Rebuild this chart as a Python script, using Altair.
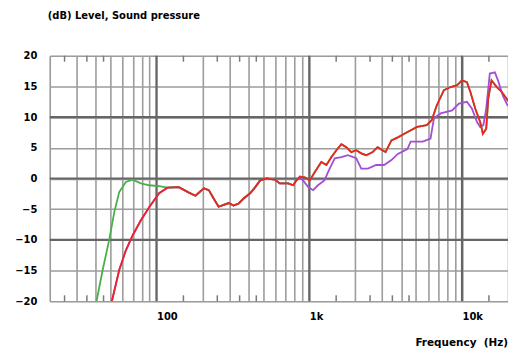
import altair as alt
import pandas as pd

# ---- data ----
red_f = [51, 57, 63, 70, 79, 90, 104, 118, 140, 163, 180, 204, 220, 237, 255, 275, 297, 319,
         344, 370, 410, 443, 477, 527, 598, 641, 728, 785, 824, 870, 935, 1008, 1090, 1200,
         1295, 1397, 1505, 1622, 1748, 1884, 2030, 2190, 2360, 2600, 2800, 3010, 3160, 3450,
         3800, 4280, 5080, 5870, 6330, 6830, 7610, 8430, 9300, 10000, 10770, 11350, 12200,
         13150, 13700, 14400, 14850, 15600, 16900, 18200, 19600, 20000]
red_db = [-20, -14.9, -11.7, -9.2, -6.8, -4.6, -2.4, -1.5, -1.4, -2.3, -2.8, -1.6, -1.9, -3.3,
          -4.6, -4.3, -4.0, -4.4, -4.1, -3.3, -2.4, -1.4, -0.3, 0.0, -0.2, -0.8, -0.8, -1.1,
          -0.3, 0.3, 0.2, -0.3, 1.1, 2.7, 2.2, 3.5, 4.6, 5.6, 5.1, 4.3, 4.6, 4.1, 3.8, 4.3,
          5.1, 4.6, 4.3, 6.2, 6.7, 7.4, 8.4, 8.7, 9.5, 11.9, 14.4, 14.9, 15.2, 16.0, 15.7,
          14.1, 11.4, 9.2, 7.3, 8.1, 13.0, 16.0, 14.9, 14.1, 13.0, 12.6]

green_low_f = [40.5, 44.4, 49, 53, 57, 63, 69.7, 79, 89.6, 104]
green_low_db = [-20, -14.9, -10, -5.4, -2.2, -0.55, -0.2, -0.8, -1.1, -1.25]

purple_high_f = [985, 1060, 1140, 1255, 1360, 1470, 1622, 1790, 2030, 2190, 2420, 2740, 3090,
                 3450, 3800, 4390, 4610, 5530, 6220, 6550, 7250, 8620, 9540, 10770, 11600,
                 12540, 13150, 13800, 14400, 15200, 16400, 17200, 18500, 19600, 20000]
purple_high_db = [-1.4, -1.9, -1.1, -0.3, 1.6, 3.3, 3.5, 3.8, 3.3, 1.6, 1.6, 2.2, 2.2, 3.0,
                  4.0, 4.8, 6.0, 6.0, 6.5, 9.8, 10.6, 11.1, 12.2, 12.5, 11.4, 9.2, 8.4, 8.7,
                  11.4, 17.1, 17.3, 16.0, 13.5, 12.2, 11.8]

x_grid = [20, 30, 40, 50, 60, 70, 80, 90,
          100, 200, 300, 400, 500, 600, 700, 800, 900,
          1000, 2000, 3000, 4000, 5000, 6000, 7000, 8000, 9000,
          10000, 20000]
x_major_grid = [100, 1000, 10000]
y_ticks = [-20, -15, -10, -5, 0, 5, 10, 15, 20]
y_major_grid = [-10, 0, 10]
minor_ticks = [25, 35, 45, 150, 250, 350, 450, 1500, 2500, 3500, 4500, 15000]

title_text = "(dB) Level, Sound pressure"
xtitle_text = "Frequency\u00a0 (Hz)"

# ---- build tables ----
red = pd.DataFrame({"f": red_f, "db": red_db})
green = pd.concat([pd.DataFrame({"f": green_low_f, "db": green_low_db}),
                   red[red.f >= 118]], ignore_index=True)
purple = pd.concat([red[red.f <= 870],
                    pd.DataFrame({"f": purple_high_f, "db": purple_high_db})],
                   ignore_index=True)
minor = pd.DataFrame({"f": minor_ticks})

FONT = "DejaVu Sans"
xscale = alt.Scale(type="log", domain=[20, 20000], nice=False)
yscale = alt.Scale(domain=[-20, 20], nice=False)

x_axis = alt.Axis(
    values=x_grid,
    labelExpr="datum.value == 100 ? '100' : datum.value == 1000 ? '1k' : datum.value == 10000 ? '10k' : ''",
    labelAlign="left", labelBaseline="top", labelPadding=10,
    ticks=False, domain=False, grid=True,
    gridColor="#9c9c9c", gridWidth=1.6,
    labelOverlap=False, labelFlush=False, title=None,
    labelFont=FONT, labelFontWeight="bold", labelFontSize=10, labelColor="black",
)
y_axis = alt.Axis(
    values=y_ticks, ticks=False, domain=False, grid=True,
    gridColor="#9c9c9c", gridWidth=1.6,
    labelPadding=13, labelOverlap=False, labelFlush=False, title=None,
    labelFont=FONT, labelFontWeight="bold", labelFontSize=10, labelColor="black",
)


def line(df, color):
    return alt.Chart(df).mark_line(color=color, strokeWidth=1.8, clip=True).encode(
        x=alt.X("f:Q", scale=xscale, axis=x_axis),
        y=alt.Y("db:Q", scale=yscale, axis=y_axis),
    )


purple_line = line(purple, "#a24ed6")
green_line = line(green, "#47b047")
red_line = line(red, "#ec2424")

xmaj = alt.Chart(pd.DataFrame({"f": x_major_grid})).mark_rule(color="#666666", strokeWidth=2.2).encode(
    x=alt.X("f:Q", scale=xscale, axis=x_axis))
ymaj = alt.Chart(pd.DataFrame({"db": y_major_grid})).mark_rule(color="#666666", strokeWidth=2.2).encode(
    y=alt.Y("db:Q", scale=yscale, axis=y_axis))

ticks_bottom = alt.Chart(minor).mark_rule(color="#7a7a7a", strokeWidth=1.5).encode(
    x=alt.X("f:Q", scale=xscale, axis=x_axis), y=alt.value(247), y2=alt.value(241))
ticks_top = alt.Chart(minor).mark_rule(color="#7a7a7a", strokeWidth=1.5).encode(
    x=alt.X("f:Q", scale=xscale, axis=x_axis), y=alt.value(0), y2=alt.value(6))

title = alt.Chart(pd.DataFrame({"t": [title_text]})).mark_text(
    align="left", baseline="middle", font=FONT, fontWeight="bold", fontSize=10, color="black"
).encode(x=alt.value(-2), y=alt.value(-40), text="t:N")
xtitle = alt.Chart(pd.DataFrame({"t": [xtitle_text]})).mark_text(
    align="right", baseline="middle", font=FONT, fontWeight="bold", fontSize=10.5, color="black"
).encode(x=alt.value(461), y=alt.value(289), text="t:N")

chart = alt.layer(
    xmaj, ymaj, ticks_bottom, ticks_top, purple_line, green_line, red_line, title, xtitle
).properties(
    width=461, height=247,
    autosize=alt.AutoSizeParams(type="none"),
    padding={"left": 42, "top": 47, "right": 0, "bottom": 50},
).configure_view(stroke="#666666", strokeWidth=2.2).configure(background="white")

chart.save("out.html", embed_options={"renderer": "svg", "actions": False})
